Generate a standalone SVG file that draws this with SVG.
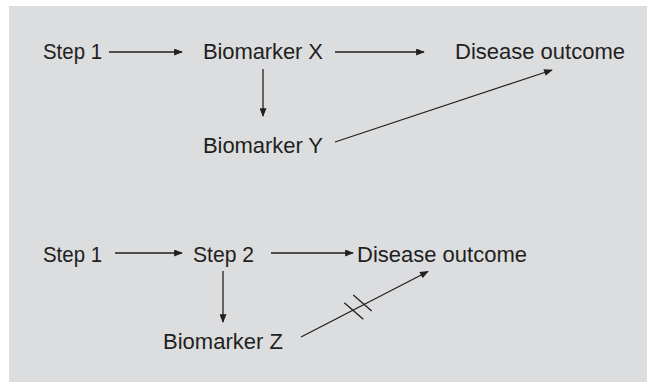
<svg xmlns="http://www.w3.org/2000/svg" width="647" height="382" viewBox="0 0 647 382">
<style>
text{font-family:"Liberation Sans",Arial,sans-serif;font-size:22px;fill:#231f20}
.c line{stroke:#231f20;stroke-width:1.3;fill:none}
.c line.a{marker-end:url(#ah)}
</style>
<defs>
<marker id="ah" viewBox="0 0 10 8" refX="9" refY="4" markerWidth="10" markerHeight="7" markerUnits="userSpaceOnUse" orient="auto">
<path d="M0,0 L10,4 L0,8 Z" fill="#231f20"/>
</marker>
</defs>
<rect x="9" y="6" width="638" height="376" fill="#dcdddf"/>
<g id="n-step1a"><text x="43" y="59" textLength="59" lengthAdjust="spacingAndGlyphs">Step 1</text></g>
<g id="n-bx"><text x="203" y="59" textLength="120">Biomarker X</text></g>
<g id="n-outa"><text x="455" y="59" textLength="170">Disease outcome</text></g>
<g id="n-by"><text x="203" y="153" textLength="120">Biomarker Y</text></g>
<g id="n-step1b"><text x="43" y="262" textLength="59" lengthAdjust="spacingAndGlyphs">Step 1</text></g>
<g id="n-step2"><text x="193" y="262" textLength="61" lengthAdjust="spacingAndGlyphs">Step 2</text></g>
<g id="n-outb"><text x="357" y="262" textLength="170">Disease outcome</text></g>
<g id="n-bz"><text x="163" y="349" textLength="120">Biomarker Z</text></g>
<g id="connectors" class="c">
<line class="a" x1="109" y1="52" x2="182" y2="52"/>
<line class="a" x1="335" y1="52" x2="424" y2="52"/>
<line class="a" x1="263" y1="69" x2="263" y2="116"/>
<line class="a" x1="335" y1="142" x2="552" y2="70"/>
<line class="a" x1="115" y1="253" x2="182" y2="253"/>
<line class="a" x1="271" y1="253" x2="353" y2="253"/>
<line class="a" x1="223" y1="271" x2="223" y2="322"/>
<line class="a" x1="301" y1="337" x2="428" y2="271.5"/>
<line x1="344.3" y1="302.7" x2="363.3" y2="319.3"/>
<line x1="353.3" y1="295" x2="371.7" y2="311"/>
</g>
</svg>
